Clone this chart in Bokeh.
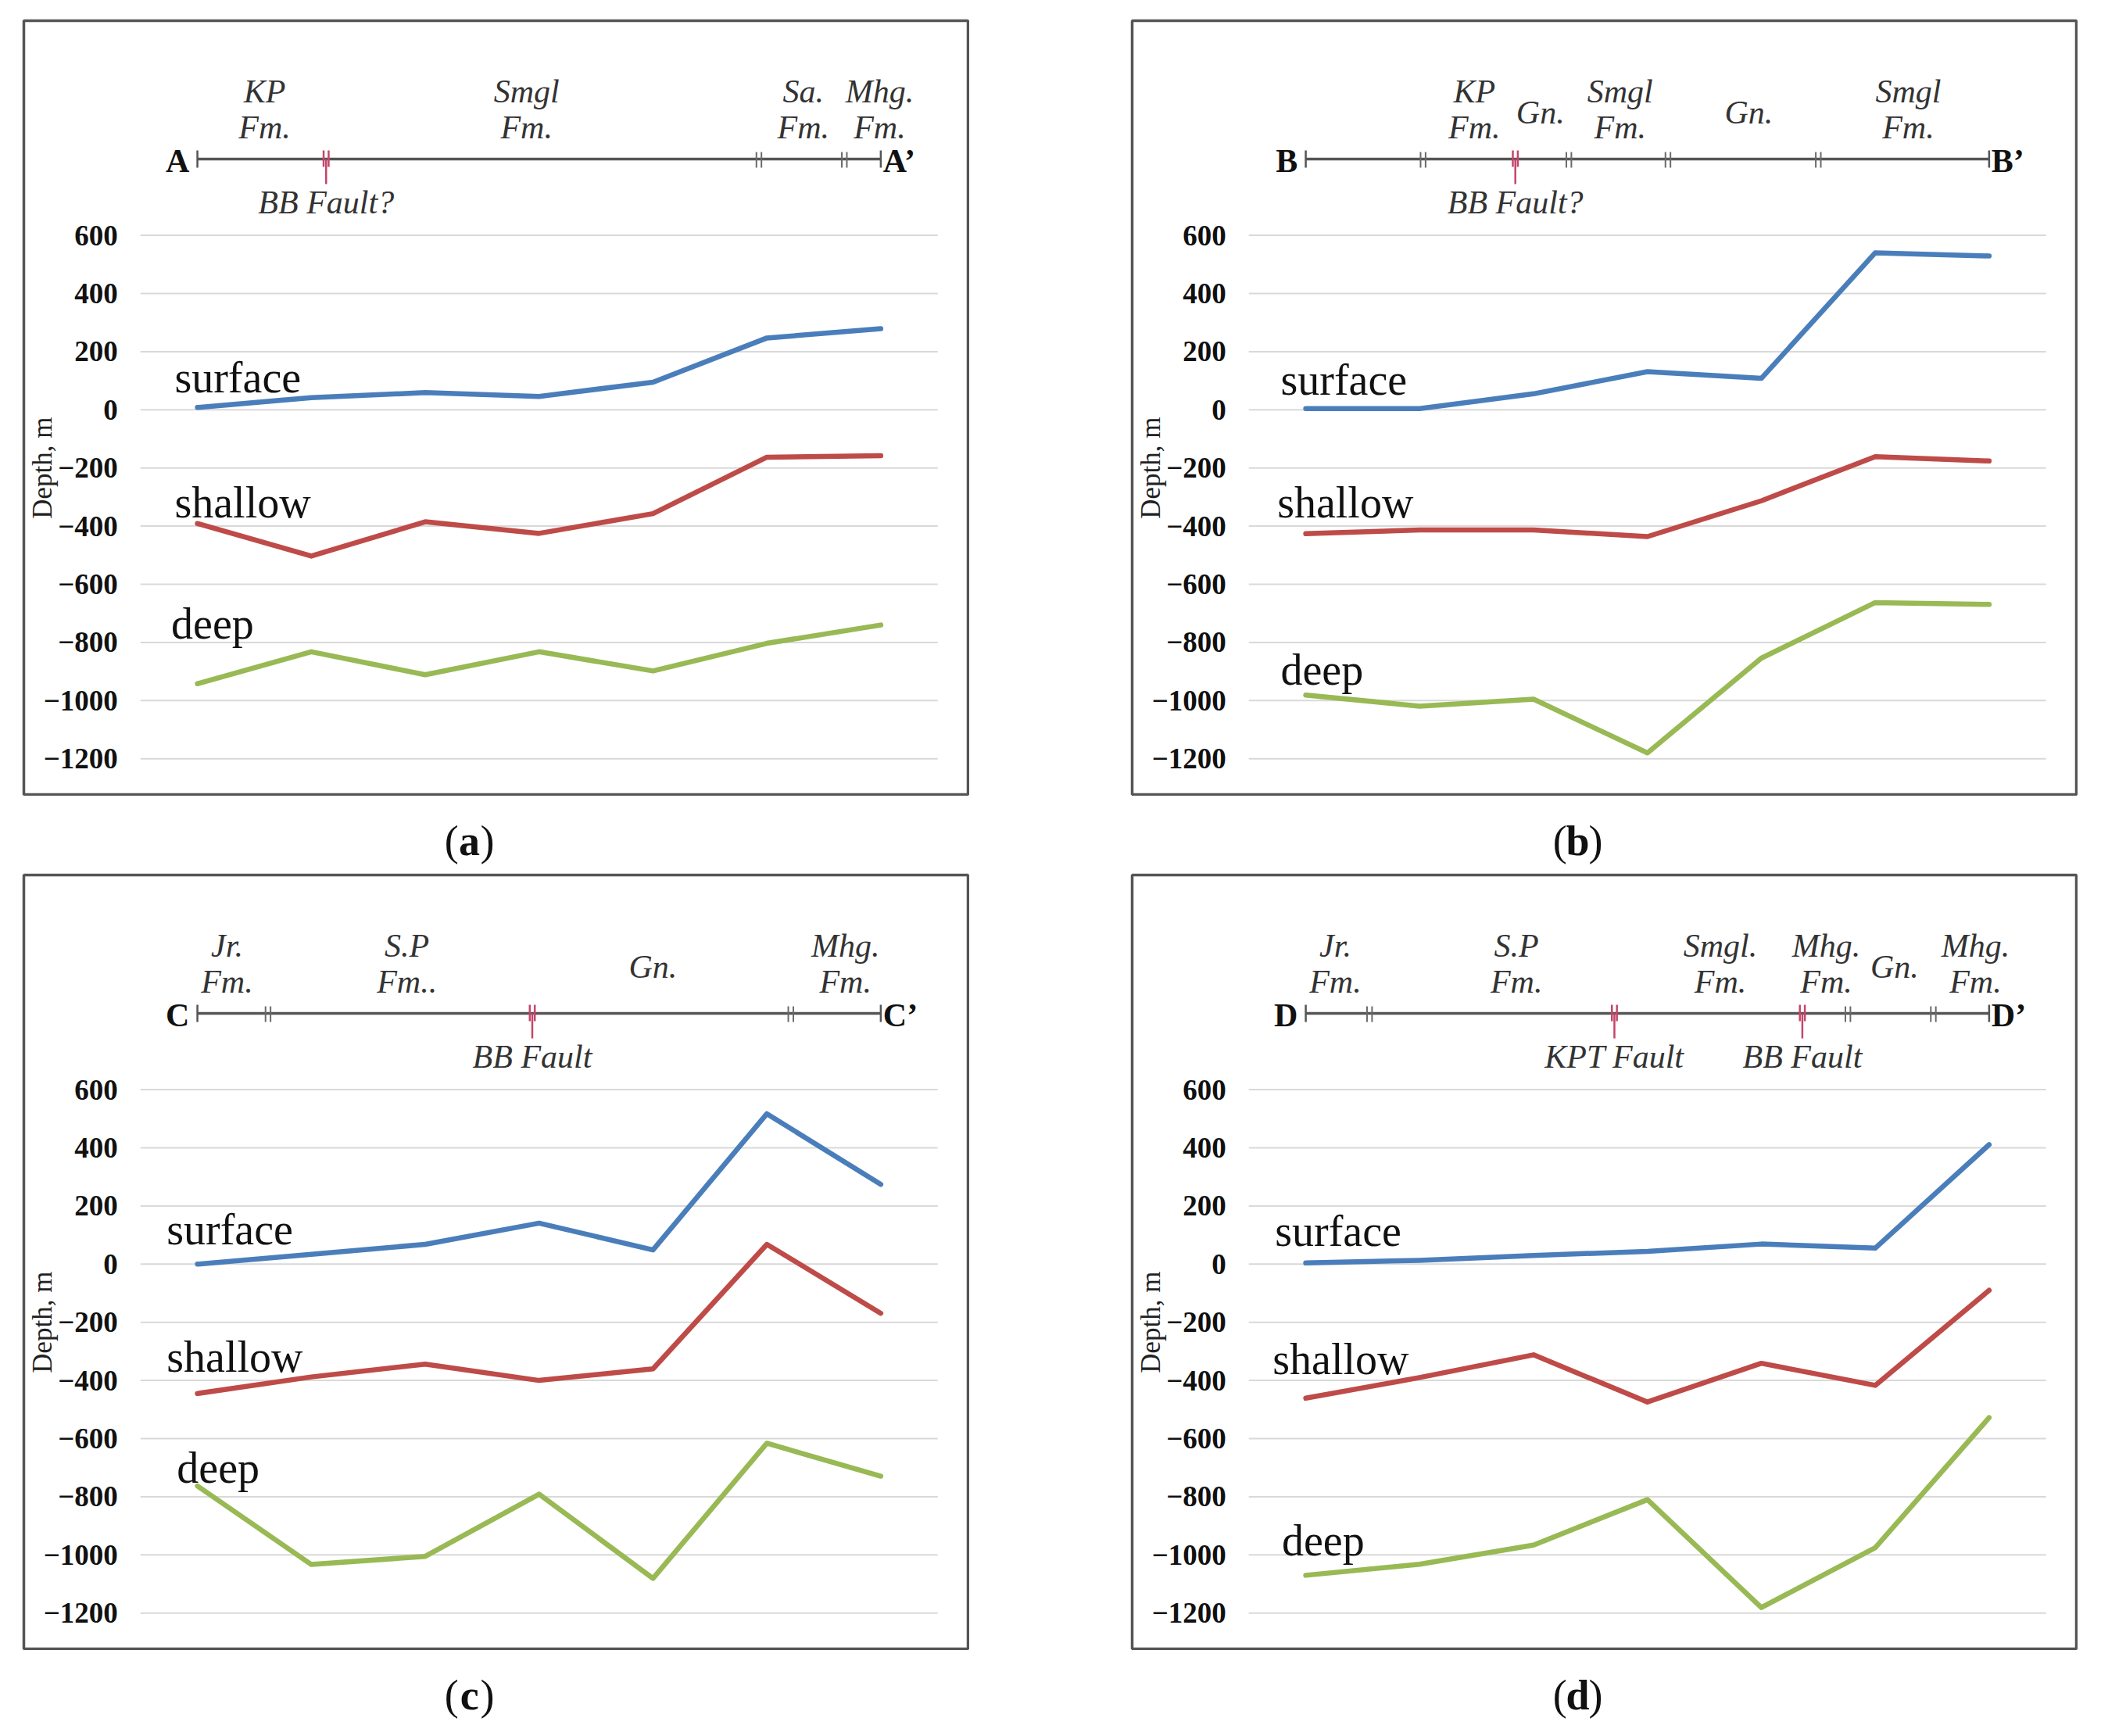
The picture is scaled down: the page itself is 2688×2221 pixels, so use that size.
import numpy as np
from bokeh.plotting import figure
from bokeh.models import Range1d, FixedTicker, Spacer
from bokeh.layouts import row, column
from bokeh.embed import file_html
from bokeh.resources import INLINE
from bokeh.core.properties import value

# ---------------- data ----------------
STATIONS = [0, 1, 2, 3, 4, 5, 6]          # seven stations along each section
SERIES = ["surface", "shallow", "deep"]
COLORS = ["#4A7EBB", "#BE4B48", "#98B954"]

Y_TICKS = [-1200, -1000, -800, -600, -400, -200, 0, 200, 400, 600]
Y_TICK_LABELS = ["\u22121200", "\u22121000", "\u2212800", "\u2212600", "\u2212400",
                 "\u2212200", "0", "200", "400", "600"]

# (a) A - A'
A_SURFACE = [8, 42, 59, 46, 95, 247, 279]
A_SHALLOW = [-391, -503, -385, -425, -357, -163, -158]
A_DEEP = [-942, -832, -911, -832, -898, -803, -740]
# (b) B - B'
B_SURFACE = [4, 4, 55, 131, 108, 540, 529]
B_SHALLOW = [-426, -413, -413, -436, -313, -161, -176]
B_DEEP = [-981, -1019, -995, -1180, -854, -663, -669]
# (c) C - C'
C_SURFACE = [0, 34, 68, 141, 49, 517, 274]
C_SHALLOW = [-445, -388, -344, -400, -360, 68, -169]
C_DEEP = [-763, -1033, -1005, -791, -1081, -616, -729]
# (d) D - D'
D_SURFACE = [4, 13, 30, 44, 69, 55, 411]
D_SHALLOW = [-461, -390, -312, -474, -341, -417, -90]
D_DEEP = [-1070, -1032, -966, -810, -1181, -975, -528]

# section headers (positions along section in station units, 0 = first station)
A_ENDS = ["A", "A\u2019"]
A_BOUNDS = [4.93, 5.68]
A_FAULTS = [1.13]
A_FAULT_LABELS = ["BB Fault?"]
A_FORM_POS = [0.59, 2.89, 5.32, 5.99]
A_FORMS = ["KP\nFm.", "Smgl\nFm.", "Sa.\nFm.", "Mhg.\nFm."]

B_ENDS = ["B", "B\u2019"]
B_BOUNDS = [1.03, 2.31, 3.18, 4.5]
B_FAULTS = [1.84]
B_FAULT_LABELS = ["BB Fault?"]
B_FORM_POS = [1.48, 2.06, 2.76, 3.89, 5.29]
B_FORMS = ["KP\nFm.", "Gn.", "Smgl\nFm.", "Gn.", "Smgl\nFm."]

C_ENDS = ["C", "C\u2019"]
C_BOUNDS = [0.62, 5.21]
C_FAULTS = [2.94]
C_FAULT_LABELS = ["BB Fault"]
C_FORM_POS = [0.26, 1.84, 4.0, 5.69]
C_FORMS = ["Jr.\nFm.", "S.P\nFm..", "Gn.", "Mhg.\nFm."]

D_ENDS = ["D", "D\u2019"]
D_BOUNDS = [0.56, 4.76, 5.51]
D_FAULTS = [2.71, 4.36]
D_FAULT_LABELS = ["KPT Fault", "BB Fault"]
D_FORM_POS = [0.26, 1.85, 3.64, 4.57, 5.17, 5.88]
D_FORMS = ["Jr.\nFm.", "S.P\nFm.", "Smgl.\nFm.", "Mhg.\nFm.", "Gn.", "Mhg.\nFm."]

# series label positions (station units, depth)
A_LBL = ([-0.2, -0.2, -0.23], [112, -318, -735])
B_LBL = ([-0.22, -0.25, -0.22], [104, -318, -895])
C_LBL = ([-0.27, -0.27, -0.18], [118, -318, -702])
D_LBL = ([-0.27, -0.29, -0.21], [114, -328, -950])

PANEL_LETTERS = ["a", "b", "c", "d"]

PANELS = [
    ([A_SURFACE, A_SHALLOW, A_DEEP], A_ENDS, A_BOUNDS, A_FAULTS, A_FAULT_LABELS, A_FORM_POS, A_FORMS, A_LBL),
    ([B_SURFACE, B_SHALLOW, B_DEEP], B_ENDS, B_BOUNDS, B_FAULTS, B_FAULT_LABELS, B_FORM_POS, B_FORMS, B_LBL),
    ([C_SURFACE, C_SHALLOW, C_DEEP], C_ENDS, C_BOUNDS, C_FAULTS, C_FAULT_LABELS, C_FORM_POS, C_FORMS, C_LBL),
    ([D_SURFACE, D_SHALLOW, D_DEEP], D_ENDS, D_BOUNDS, D_FAULTS, D_FAULT_LABELS, D_FORM_POS, D_FORMS, D_LBL),
]

# ---------------- layout constants ----------------
FIG_W = 1212
BOX_H = 990
FIG_H = BOX_H + 4
LBL_H = 99
SERIF = "'Liberation Serif', 'DejaVu Serif', serif"
LINE_PX = 177        # section line, px from box top
ROW1_PX, ROW2_PX, MID_PX = 90, 136, 117
FAULT_LBL_PX = 232


def make_panel(series, ends, bounds, faults, fault_lbls, form_pos, forms, lbl):
    xs = [s + 0.5 for s in STATIONS]
    p = figure(width=FIG_W, height=FIG_H, output_backend="svg", toolbar_location=None,
               x_range=Range1d(-1.024, 7.266), y_range=Range1d(-1323, 1338),
               x_axis_location=None, y_axis_location="left",
               min_border_left=2, min_border_right=2, min_border_top=2, min_border_bottom=2,
               background_fill_color="white", border_fill_color="white")
    p.extra_y_ranges = {"px": Range1d(start=BOX_H, end=0)}
    p.grid.visible = False
    p.outline_line_color = "#555555"
    p.outline_line_width = 3.5

    # y axis drawn inside the box
    ax = p.yaxis[0]
    ax.fixed_location = 0
    ax.ticker = FixedTicker(ticks=Y_TICKS)
    ax.major_label_overrides = {t: l for t, l in zip(Y_TICKS, Y_TICK_LABELS)}
    ax.axis_line_color = None
    ax.major_tick_line_color = None
    ax.minor_tick_line_color = None
    ax.major_tick_out = 0
    ax.major_label_standoff = 29
    ax.major_label_text_font = SERIF
    ax.major_label_text_font_style = "bold"
    ax.major_label_text_font_size = "37px"
    ax.major_label_text_color = "#111111"

    # gridlines over the plot area only
    p.segment(x0=[0] * len(Y_TICKS), x1=[len(STATIONS)] * len(Y_TICKS), y0=Y_TICKS, y1=Y_TICKS,
              line_color="#d9d9d9", line_width=2)

    # series
    for vals, col in zip(series, COLORS):
        p.line(xs, vals, line_color=col, line_width=6.5, line_join="round", line_cap="round")

    # series labels
    p.text(x=[v + 0.5 for v in lbl[0]], y=lbl[1], text=SERIES, text_font=value(SERIF),
           text_font_size="56px", text_color="#111111", text_align="left", text_baseline="middle")

    # axis title
    p.text(x=[-0.86], y=[-200], text=["Depth, m"], angle=np.pi / 2, text_font=value(SERIF),
           text_font_size="35px", text_color="#222222", text_align="center", text_baseline="middle")

    # ---- section header ----
    x0, x1 = xs[0], xs[-1]
    sec = "#555555"
    p.segment(x0=[x0], x1=[x1], y0=[LINE_PX], y1=[LINE_PX], y_range_name="px",
              line_color=sec, line_width=3.5)
    p.segment(x0=[x0, x1], x1=[x0, x1], y0=[LINE_PX - 11] * 2, y1=[LINE_PX + 11] * 2,
              y_range_name="px", line_color=sec, line_width=2.5)
    bx = [b + 0.5 + d for b in bounds for d in (-0.022, 0.022)]
    p.segment(x0=bx, x1=bx, y0=[LINE_PX - 9] * len(bx), y1=[LINE_PX + 11] * len(bx),
              y_range_name="px", line_color="#6a6a6a", line_width=2)
    fx = [f + 0.5 + d for f in faults for d in (-0.022, 0.022)]
    p.segment(x0=fx, x1=fx, y0=[LINE_PX - 11] * len(fx), y1=[LINE_PX + 10] * len(fx),
              y_range_name="px", line_color="#C4466A", line_width=2.5)
    ft = [f + 0.5 for f in faults]
    p.segment(x0=ft, x1=ft, y0=[LINE_PX] * len(ft), y1=[LINE_PX + 32] * len(ft),
              y_range_name="px", line_color="#C4466A", line_width=2.5)
    p.text(x=ft, y=[FAULT_LBL_PX] * len(ft), text=fault_lbls, y_range_name="px",
           text_font=value(SERIF), text_font_style="italic", text_font_size="42px",
           text_color="#333333", text_align="center", text_baseline="middle")
    # end letters
    p.text(x=[x0 - 0.07], y=[LINE_PX + 2], text=[ends[0]], y_range_name="px",
           text_font=value(SERIF), text_font_style="bold", text_font_size="42px",
           text_color="#111111", text_align="right", text_baseline="middle")
    p.text(x=[x1 + 0.02], y=[LINE_PX + 2], text=[ends[1]], y_range_name="px",
           text_font=value(SERIF), text_font_style="bold", text_font_size="42px",
           text_color="#111111", text_align="left", text_baseline="middle")
    # formation names
    tx, ty, tt = [], [], []
    for pos, name in zip(form_pos, forms):
        parts = name.split("\n")
        if len(parts) == 2:
            tx += [pos + 0.5, pos + 0.5]
            ty += [ROW1_PX, ROW2_PX]
            tt += parts
        else:
            tx.append(pos + 0.5)
            ty.append(MID_PX)
            tt.append(parts[0])
    p.text(x=tx, y=ty, text=tt, y_range_name="px", text_font=value(SERIF),
           text_font_style="italic", text_font_size="42px", text_color="#333333",
           text_align="center", text_baseline="middle")
    return p


def make_label(letter):
    # "(x)" with a bold letter and plain parentheses
    q = figure(width=FIG_W, height=LBL_H, output_backend="svg", toolbar_location=None,
               x_range=Range1d(0, FIG_W), y_range=Range1d(LBL_H, 0),
               x_axis_location=None, y_axis_location=None, min_border=0,
               background_fill_color="white", border_fill_color="white")
    q.outline_line_color = None
    q.grid.visible = False
    cx, cy, half = 572, 57, 14
    q.text(x=[cx], y=[cy], text=[letter], text_font=value(SERIF), text_font_style="bold",
           text_font_size="54px", text_color="#111111", text_align="center", text_baseline="middle")
    q.text(x=[cx - half], y=[cy], text=["("], text_font=value(SERIF),
           text_font_size="54px", text_color="#111111", text_align="right", text_baseline="middle")
    q.text(x=[cx + half], y=[cy], text=[")"], text_font=value(SERIF),
           text_font_size="54px", text_color="#111111", text_align="left", text_baseline="middle")
    return q


cells = [column(make_panel(*pn), make_label(lt)) for pn, lt in zip(PANELS, PANEL_LETTERS)]

layout = column(
    Spacer(width=10, height=24),
    row(Spacer(width=28, height=10), cells[0], Spacer(width=206, height=10), cells[1]),
    row(Spacer(width=28, height=10), cells[2], Spacer(width=206, height=10), cells[3]),
)

open("out.html", "w").write(file_html(layout, INLINE))
